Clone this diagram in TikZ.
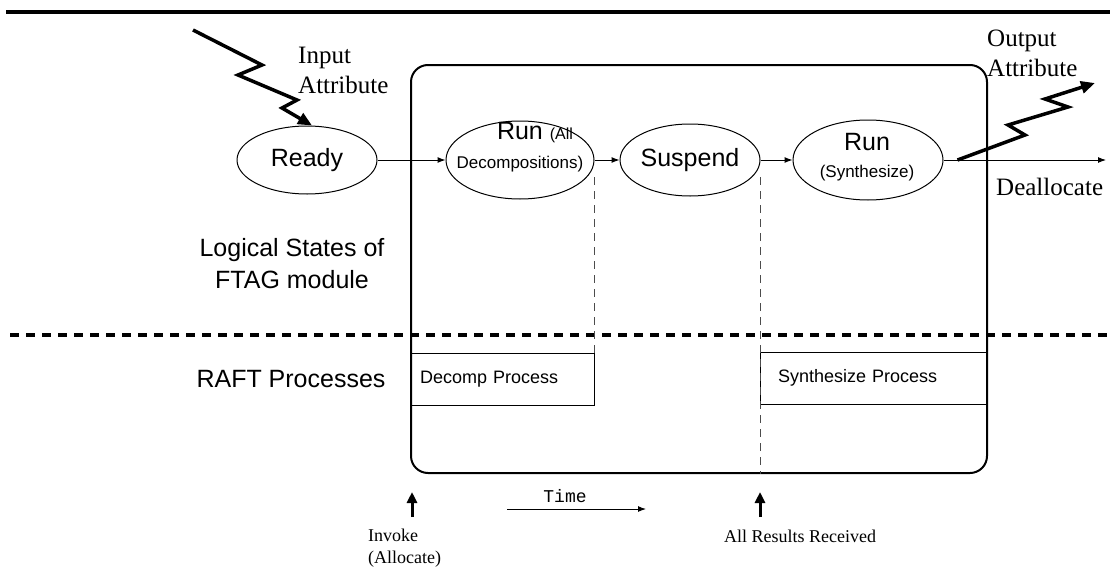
\documentclass[tikz,border=0pt]{standalone}
\usepackage{fontspec}
\setmainfont{Liberation Serif}
\setsansfont{Liberation Sans}
\setmonofont{Liberation Mono}
\usetikzlibrary{shapes.geometric,arrows.meta}

\tikzset{
  state/.style={draw, ellipse, line width=1pt, inner sep=0pt, font=\sffamily\fontsize{25}{30}\selectfont},
  bigsans/.style={inner sep=0pt, font=\sffamily\fontsize{25}{32}\selectfont},
  bigserif/.style={inner sep=0pt, font=\fontsize{25}{30}\selectfont},
  smallserif/.style={inner sep=0pt, font=\fontsize{18}{22}\selectfont},
  procbox/.style={draw, rectangle, line width=1pt, minimum height=52pt, align=left, inner ysep=0pt, font=\sffamily\fontsize{18}{22}\selectfont},
  flow/.style={->, line width=1pt},
  bolt/.style={-{Triangle[length=14pt,width=12pt]}, line width=3.5pt, line join=miter},
  event/.style={-{Triangle[length=11pt,width=10pt]}, line width=3pt},
  guide/.style={line width=1pt, black!70, dash pattern=on 8pt off 6pt},
}

\begin{document}
\begin{tikzpicture}[x=1pt, y=-1pt, >={Latex[length=8pt,width=6pt]}]
\useasboundingbox (0,0) rectangle (1110,570);

% rule on top and the divider between the two layers
\draw[line width=4pt] (6,12) -- (1110,12);
\draw[line width=4pt, dash pattern=on 9pt off 7pt] (10,335) -- (1110,335);

% lifetime of the module
\node[draw, line width=2pt, rounded corners=17pt, minimum width=576pt, minimum height=408pt, inner sep=0pt] (frame) at (699,269) {};

% logical states
\node[state, minimum width=140pt, minimum height=68pt] (ready) at (307,160) {Ready};
\node[state, minimum width=148pt, minimum height=78pt] (runall) at (520,160) {};
\node[state, minimum width=140pt, minimum height=72pt] (suspend) at (690,160) {Suspend};
\node[state, minimum width=150pt, minimum height=80pt] (runsyn) at (868,160) {};
\node[bigsans, align=center] (runalltext) at (520,147)
  {\hspace*{30pt}Run {\fontsize{16}{19}\selectfont(All}\\[-3pt]{\fontsize{17}{20}\selectfont Decompositions)}};
\node[bigsans, align=center] (runsyntext) at (867,157)
  {Run\\[-5pt]{\fontsize{17}{20}\selectfont(Synthesize)}};

% transitions
\coordinate (exit) at (1106,160);
\draw[flow] (ready) -- (runall);
\draw[flow] (runall) -- (suspend);
\draw[flow] (suspend) -- (runsyn);
\draw[flow] (runsyn) -- (exit);

% attributes coming in and going out
\coordinate (insrc) at (193,30);
\coordinate (outtip) at (1095,83);
\draw[bolt] (insrc) -- (262,65) -- (238,75) -- (297,100) -- (282,108) -- ([xshift=5pt]ready.north);
\draw[bolt] ([xshift=14pt]runsyn.east) -- (1025,135) -- (1008,125) -- (1068,107) -- (1045,99) -- (outtip);
\node[bigserif, anchor=west, align=left] (inattr) at (298,70) {Input\\Attribute};
\node[bigserif, anchor=west, align=left] (outattr) at (987,53) {Output\\Attribute};
\node[bigserif, anchor=west] (dealloc) at (996,187) {Deallocate};

% layer names
\node[bigsans, align=center] (logical) at (292,264) {Logical States of\\FTAG module};
\node[bigsans] (raft) at (291,379) {RAFT Processes};

% processes
\node[procbox, minimum width=183pt, text width=165pt, inner xsep=9pt] (decomp) at (502.5,379) {Decomp Process};
\node[procbox, minimum width=227pt, text width=191pt, inner xsep=18pt] (synth) at (873.5,378) {Synthesize Process};

% time marks
\draw[guide] (runall.east |- 0,177) -- (decomp.north east);
\draw[guide] (suspend.east |- 0,177) -- (suspend.east |- frame.south);

% events along the time axis
\coordinate (invokefoot) at (412,517);
\coordinate (invoketip) at (412,492);
\coordinate (resultsfoot) at (760,517);
\coordinate (resultstip) at (760,492);
\draw[event] (invokefoot) -- (invoketip);
\draw[event] (resultsfoot) -- (resultstip);
\node[smallserif, anchor=west, align=left] (invoke) at (368,548) {Invoke\\(Allocate)};
\node[smallserif] (results) at (800,536) {All Results Received};

\coordinate (timefrom) at (507,509);
\coordinate (timeto) at (646,509);
\draw[flow] (timefrom) -- (timeto);
\node[inner sep=0pt, font=\ttfamily\fontsize{18}{22}\selectfont] (timelabel) at (565,496) {Time};
\end{tikzpicture}
\end{document}
